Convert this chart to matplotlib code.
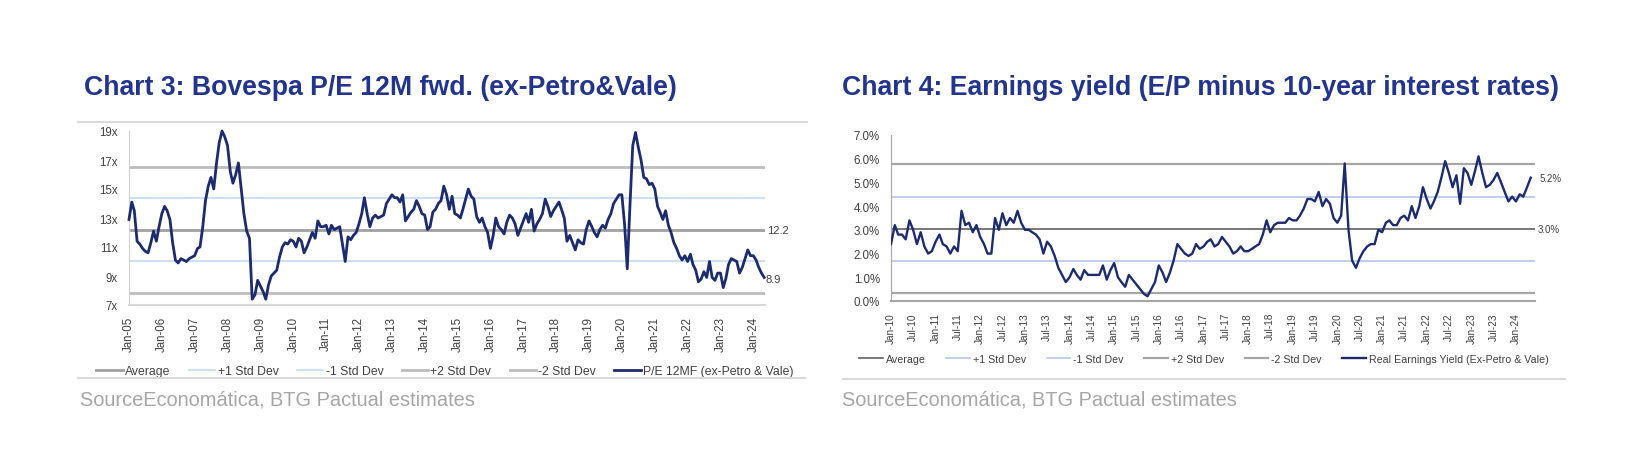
import matplotlib
matplotlib.use('Agg')
import matplotlib.pyplot as plt
from matplotlib.lines import Line2D
import pandas as pd

plt.rcParams['font.family'] = ['Liberation Sans', 'DejaVu Sans']

# Chart 3: Bovespa P/E 12M fwd (ex-Petro & Vale), monthly Jan-05 .. May-24
pe_dates = pd.date_range('2005-01-01', '2024-05-01', freq='MS')
pe_12mf = [
    12.9, 14.1, 13.5, 11.4, 11.2, 10.9, 10.7, 10.6, 11.3, 12.1, 11.4, 12.4,  # 2005
    13.3, 13.8, 13.5, 12.9, 11.3, 10.1, 9.9, 10.2, 10.1, 10.0, 10.2, 10.3,   # 2006
    10.4, 10.9, 11.0, 12.4, 14.2, 15.2, 15.8, 15.0, 16.8, 18.2, 19.0, 18.6,  # 2007
    18.0, 16.2, 15.4, 16.0, 16.8, 15.0, 13.3, 12.1, 11.6, 7.4, 7.7, 8.7,     # 2008
    8.3, 7.9, 7.4, 8.4, 9.0, 9.2, 9.4, 10.3, 11.0, 11.3, 11.2, 11.5,         # 2009
    11.4, 11.0, 11.6, 11.4, 10.6, 11.0, 11.5, 12.0, 11.6, 12.8, 12.4, 12.4,  # 2010
    12.5, 11.9, 12.5, 12.2, 12.3, 12.4, 11.2, 10.0, 11.7, 11.5, 11.8, 12.0,  # 2011
    12.6, 13.3, 14.4, 13.3, 12.4, 13.0, 13.2, 13.0, 13.1, 13.2, 14.0, 14.3,  # 2012
    14.6, 14.4, 14.4, 14.1, 14.6, 12.8, 13.1, 13.4, 13.6, 14.2, 13.8, 13.3,  # 2013
    13.2, 12.2, 12.4, 13.4, 13.6, 14.0, 14.2, 15.2, 14.6, 13.6, 14.5, 13.3,  # 2014
    13.2, 13.0, 13.6, 14.3, 15.0, 14.5, 14.3, 13.1, 12.7, 13.0, 12.4, 12.0,  # 2015
    10.9, 11.8, 13.0, 12.4, 12.2, 11.9, 12.7, 13.2, 13.0, 12.6, 11.8, 12.3,  # 2016
    12.8, 13.3, 12.7, 13.6, 12.1, 12.6, 12.9, 13.3, 14.3, 13.8, 13.1, 13.5,  # 2017
    13.8, 14.1, 13.6, 13.0, 11.4, 11.8, 11.3, 10.8, 11.5, 11.3, 11.2, 12.2,  # 2018
    12.8, 12.4, 12.0, 11.7, 12.2, 12.5, 12.3, 12.9, 13.3, 14.0, 14.3, 14.6,  # 2019
    14.6, 12.5, 9.5, 14.0, 18.0, 18.9, 17.9, 17.0, 15.8, 15.7, 15.3, 15.4,   # 2020
    15.0, 13.8, 13.4, 12.9, 13.5, 12.5, 12.0, 11.3, 10.9, 10.4, 10.1, 10.4,  # 2021
    10.0, 10.5, 9.8, 9.4, 8.6, 8.8, 9.3, 8.9, 10.0, 8.9, 8.7, 9.2,           # 2022
    9.2, 8.2, 8.8, 9.8, 10.2, 10.1, 10.0, 9.2, 9.6, 10.2, 10.8, 10.4,        # 2023
    10.4, 10.1, 9.6, 9.2, 8.9,                                               # 2024
]
pe_avg = 12.2
pe_std = 2.17
pe_ticks = pd.date_range('2005-01-01', '2024-01-01', freq='YS')
pe_yticks = [7, 9, 11, 13, 15, 17, 19]
pe_labels = ['Average', '+1 Std Dev', '-1 Std Dev', '+2 Std Dev', '-2 Std Dev',
             'P/E 12MF (ex-Petro & Vale)']

# Chart 4: real earnings yield (E/P minus 10y rates), monthly Jan-10 .. May-24
ey_dates = pd.date_range('2010-01-01', '2024-05-01', freq='MS')
ey_real = [
    2.4, 3.2, 2.8, 2.8, 2.6, 3.4, 3.0, 2.4, 2.9, 2.3, 2.0, 2.1,    # 2010
    2.5, 2.8, 2.4, 2.3, 2.0, 2.3, 2.1, 3.8, 3.2, 3.3, 2.9, 3.2,    # 2011
    2.7, 2.4, 2.0, 2.0, 3.5, 3.0, 3.7, 3.2, 3.5, 3.3, 3.8, 3.3,    # 2012
    3.0, 3.0, 2.9, 2.8, 2.6, 2.0, 2.5, 2.3, 1.9, 1.4, 1.1, 0.8,    # 2013
    1.0, 1.35, 1.1, 0.9, 1.3, 1.1, 1.1, 1.1, 1.1, 1.5, 0.9, 1.3,   # 2014
    1.6, 1.0, 0.8, 0.6, 1.1, 0.9, 0.7, 0.5, 0.3, 0.2, 0.5, 0.8,    # 2015
    1.5, 1.2, 0.8, 1.2, 1.7, 2.4, 2.2, 2.0, 1.9, 2.0, 2.4, 2.2,    # 2016
    2.3, 2.5, 2.6, 2.3, 2.4, 2.7, 2.5, 2.3, 2.0, 2.1, 2.3, 2.1,    # 2017
    2.1, 2.2, 2.3, 2.4, 2.8, 3.4, 2.9, 3.2, 3.3, 3.3, 3.3, 3.5,    # 2018
    3.4, 3.4, 3.6, 3.9, 4.3, 4.3, 4.2, 4.6, 4.0, 4.3, 4.1, 3.5,    # 2019
    3.3, 3.6, 5.8, 3.0, 1.7, 1.4, 1.8, 2.1, 2.3, 2.4, 2.4, 3.0,    # 2020
    2.9, 3.3, 3.4, 3.2, 3.2, 3.5, 3.6, 3.4, 4.0, 3.5, 4.0, 4.8,    # 2021
    4.3, 3.9, 4.2, 4.6, 5.2, 5.9, 5.4, 4.8, 5.3, 4.1, 5.6, 5.4,    # 2022
    4.9, 5.5, 6.1, 5.4, 4.8, 4.9, 5.1, 5.4, 5.0, 4.6, 4.2, 4.4,    # 2023
    4.2, 4.5, 4.4, 4.8, 5.2,                                       # 2024
]
ey_avg = 3.04
ey_std = 1.36
ey_ticks = pd.date_range('2010-01-01', '2024-01-01', freq='6MS')
ey_yticks = [0, 1, 2, 3, 4, 5, 6, 7]
ey_labels = ['Average', '+1 Std Dev', '-1 Std Dev', '+2 Std Dev', '-2 Std Dev',
             'Real Earnings Yield (Ex-Petro & Vale)']

NAVY = '#1C2B6E'
TITLE = '#23348C'
TXT = '#404040'
W, H = 1650, 460


def fx(px):
    return px / W


def fy(py):
    return 1 - py / H


def draw_bands(ax, avg, std, labels, avg_color, avg_lw, sd2_color, sd2_lw, sd1_color):
    ax.axhline(avg, color=avg_color, lw=avg_lw, label=labels[0], zorder=1)
    ax.axhline(avg + std, color=sd1_color, lw=1.2, label=labels[1], zorder=1)
    ax.axhline(avg - std, color=sd1_color, lw=1.2, label=labels[2], zorder=1)
    ax.axhline(avg + 2 * std, color=sd2_color, lw=sd2_lw, label=labels[3], zorder=1)
    ax.axhline(avg - 2 * std, color=sd2_color, lw=sd2_lw, label=labels[4], zorder=1)


fig = plt.figure(figsize=(16.5, 4.6), dpi=100)

# ---- left panel
ax1 = fig.add_axes([fx(129), fy(306), fx(765) - fx(129), fy(132) - fy(306)])
draw_bands(ax1, pe_avg, pe_std, pe_labels, '#A0A0A0', 2.0, '#BDBDBD', 2.0, '#C6D9F1')
ax1.plot(pe_dates, pe_12mf, color=NAVY, lw=2.0, label=pe_labels[5], clip_on=False, zorder=3)
ax1.set_xlim(pd.Timestamp('2005-01-01'), pd.Timestamp('2024-05-10'))
ax1.set_ylim(7, 19)
ax1.set_yticks(pe_yticks)
ax1.set_yticklabels([f'{v}x' for v in pe_yticks])
ax1.set_xticks(pe_ticks)
ax1.set_xticklabels([d.strftime('%b-%y') for d in pe_ticks], rotation=90)
ax1.tick_params(axis='both', length=0, pad=8, labelsize=8.3, labelcolor=TXT)
ax1.text(1.004, pe_avg, f'{pe_avg:.1f}', transform=ax1.get_yaxis_transform(),
         ha='left', va='center', fontsize=8, color=TXT)
ax1.annotate(f'{pe_12mf[-1]:.1f}', xy=(pe_dates[-1], pe_12mf[-1]), xytext=(1, -1),
             textcoords='offset points', ha='left', va='center', fontsize=8, color=TXT)
for s in ['top', 'right']:
    ax1.spines[s].set_visible(False)
ax1.spines['left'].set_color('#D0D0D0')
ax1.spines['bottom'].set_color('#D9D9D9')
ax1.spines['bottom'].set_linewidth(1.5)

# ---- right panel
ax2 = fig.add_axes([fx(891), fy(302), fx(1535) - fx(891), fy(136) - fy(302)])
draw_bands(ax2, ey_avg, ey_std, ey_labels, '#606060', 1.2, '#A6A6A6', 1.6, '#B4C7E7')
ax2.plot(ey_dates, ey_real, color=NAVY, lw=1.7, label=ey_labels[5], zorder=3)
ax2.set_xlim(pd.Timestamp('2010-01-01'), pd.Timestamp('2024-06-05'))
ax2.set_ylim(0, 7)
ax2.set_yticks(ey_yticks)
ax2.set_yticklabels([f'{v:.1f}%' for v in ey_yticks])
ax2.set_xticks(ey_ticks)
ax2.set_xticklabels([d.strftime('%b-%y') for d in ey_ticks], rotation=90)
ax2.tick_params(axis='y', length=0, pad=8, labelsize=8.3, labelcolor=TXT)
ax2.tick_params(axis='x', length=0, pad=8, labelsize=7.2, labelcolor=TXT)
ax2.text(1.004, ey_avg, f'{ey_avg:.1f}%', transform=ax2.get_yaxis_transform(),
         ha='left', va='center', fontsize=7, color=TXT)
ax2.annotate(f'{ey_real[-1]:.1f}%', xy=(ey_dates[-1], ey_real[-1]), xytext=(6, 0),
             textcoords='offset points', ha='left', va='center', fontsize=7, color=TXT)
for s in ['top', 'right']:
    ax2.spines[s].set_visible(False)
ax2.spines['left'].set_color('#A6A6A6')
ax2.spines['bottom'].set_color('#A6A6A6')
ax2.spines['bottom'].set_linewidth(1.5)

# ---- legends
ax1.legend(ncol=6, loc='center', bbox_to_anchor=(fx(445), fy(372)), bbox_transform=fig.transFigure,
           frameon=False, fontsize=8.8, handlelength=2.15, handletextpad=0.2,
           columnspacing=1.5, borderpad=0, borderaxespad=0, labelcolor=TXT)
ax2.legend(ncol=6, loc='center', bbox_to_anchor=(fx(1204), fy(360)), bbox_transform=fig.transFigure,
           frameon=False, fontsize=7.7, handlelength=2.2, handletextpad=0.3,
           columnspacing=1.9, borderpad=0, borderaxespad=0, labelcolor=TXT)

# ---- titles, separators, sources
fig.text(fx(84), fy(95), 'Chart 3: Bovespa P/E 12M fwd. (ex-Petro&Vale)', fontsize=19.2,
         fontweight='bold', color=TITLE, va='baseline')
fig.text(fx(842), fy(95), 'Chart 4: Earnings yield (E/P minus 10-year interest rates)', fontsize=19.2,
         fontweight='bold', color=TITLE, va='baseline')
fig.add_artist(Line2D([fx(78), fx(807)], [fy(123), fy(123)], color='#D9D9D9', lw=1.5))
fig.add_artist(Line2D([fx(78), fx(805)], [fy(379), fy(379)], color='#D9D9D9', lw=1.5))
fig.add_artist(Line2D([fx(843), fx(1565)], [fy(380), fy(380)], color='#D9D9D9', lw=1.5))
fig.text(fx(80), fy(406), 'SourceEconomática, BTG Pactual estimates', fontsize=14.4,
         color='#A6A6A6', va='baseline')
fig.text(fx(842), fy(406), 'SourceEconomática, BTG Pactual estimates', fontsize=14.4,
         color='#A6A6A6', va='baseline')

fig.savefig('out.png', dpi=100)
